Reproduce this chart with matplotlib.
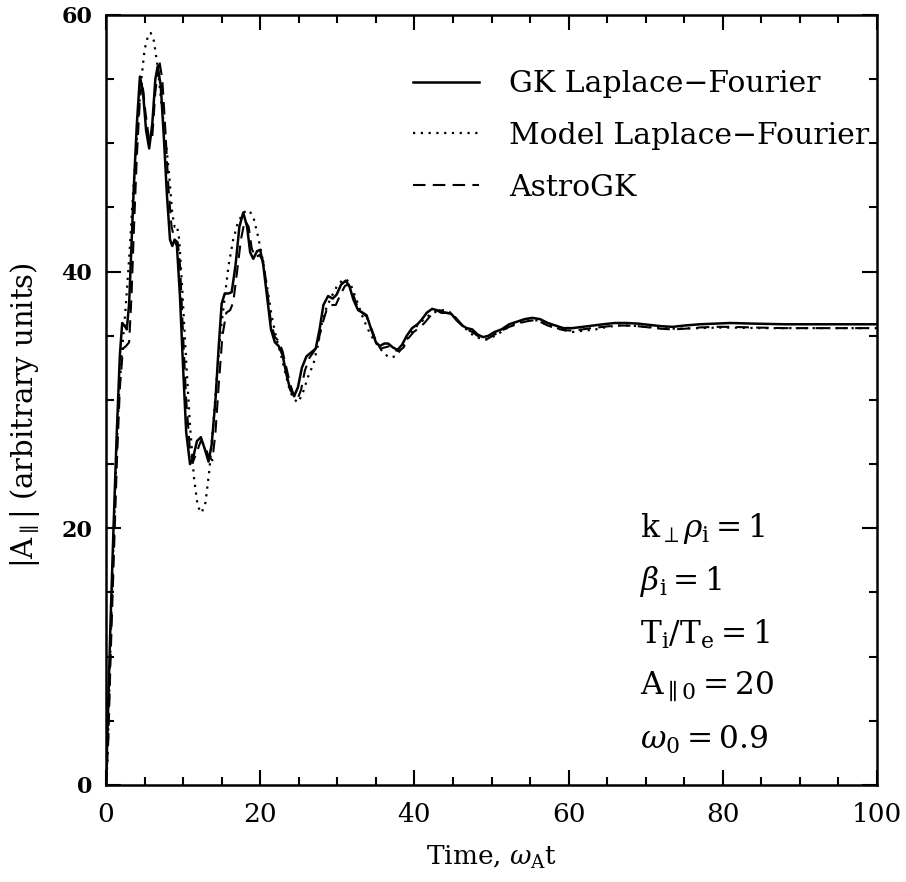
import matplotlib
matplotlib.use("Agg")
import matplotlib.pyplot as plt
from matplotlib.ticker import MultipleLocator

# GK Laplace-Fourier (solid)
gk_t = [0.0, 0.3, 0.6, 1.0, 1.4, 1.8, 2.1, 2.4, 2.7, 3.0, 3.3, 3.6, 4.0, 4.4, 4.8, 5.2,
        5.6, 6.0, 6.4, 6.7, 7.1, 7.5, 7.9, 8.3, 8.6, 8.9, 9.2, 9.6, 10.0, 10.4, 10.9,
        11.3, 11.8, 12.3, 12.8, 13.3, 13.7, 14.2, 14.6, 15.0, 15.4, 15.9, 16.3, 16.8,
        17.3, 17.8, 18.3, 18.7, 19.1, 19.6, 20.0, 20.4, 20.9, 21.4, 21.9, 22.4, 22.9,
        23.4, 23.9, 24.4, 24.9, 25.4, 26.0, 26.6, 27.2, 27.7, 28.2, 28.8, 29.4, 29.9,
        30.5, 31.1, 31.6, 32.1, 32.7, 33.3, 33.8, 34.4, 35.0, 35.5, 36.1, 36.6, 37.2,
        37.8, 38.4, 39.0, 39.7, 40.4, 41.0, 41.6, 42.3, 42.9, 43.5, 44.2, 44.8, 45.5,
        46.2, 46.8, 47.5, 48.2, 48.9, 49.6, 50.4, 51.3, 52.3, 53.3, 54.3, 55.3, 56.3,
        57.3, 58.3, 59.3, 60.5, 61.8, 63.0, 64.5, 66.0, 67.5, 69.0, 70.5, 72.0, 73.5,
        75.0, 77.0, 79.0, 81.0, 84.0, 88.0, 92.0, 96.0, 100.0]
gk_a = [0.0, 6.5, 13.0, 20.5, 27.5, 33.5, 36.0, 35.8, 35.5, 37.5, 42.0, 46.5, 51.5, 55.2,
        54.0, 51.0, 49.6, 51.5, 55.0, 56.0, 54.5, 50.5, 46.0, 42.5, 42.0, 42.5, 42.0,
        38.0, 32.5, 27.5, 25.0, 25.5, 26.8, 27.1, 26.2, 25.2, 26.5, 30.0, 34.0, 37.5,
        38.3, 38.3, 38.4, 40.5, 43.5, 44.6, 43.5, 41.5, 41.0, 41.6, 41.7, 40.5, 38.0,
        35.5, 34.5, 34.2, 33.5, 32.0, 30.8, 30.3, 31.0, 32.5, 33.4, 33.7, 34.0, 35.5,
        37.4, 38.1, 37.9, 38.2, 39.0, 39.3, 38.8, 37.8, 37.0, 36.8, 36.6, 35.5, 34.5,
        34.2, 34.4, 34.4, 34.1, 33.9, 34.3, 35.0, 35.6, 35.9, 36.3, 36.8, 37.1, 37.0,
        36.8, 36.8, 36.7, 36.2, 35.8, 35.6, 35.5, 35.1, 34.9, 35.0, 35.3, 35.5, 35.9,
        36.1, 36.3, 36.4, 36.3, 36.0, 35.8, 35.6, 35.6, 35.7, 35.8, 35.9, 36.0, 36.0,
        35.95, 35.85, 35.75, 35.7, 35.8, 35.9, 35.95, 36.0, 35.95, 35.9, 35.9, 35.9, 35.9]

# Model Laplace-Fourier (dotted)
model_t = [0.0, 0.2, 0.5, 0.9, 1.3, 1.7, 2.1, 2.5, 3.0, 3.5, 4.0, 4.5, 5.0, 5.5, 5.8, 6.2,
           6.7, 7.2, 7.7, 8.2, 8.6, 8.9, 9.2, 9.5, 9.9, 10.4, 10.9, 11.4, 11.9, 12.4,
           12.9, 13.4, 13.9, 14.4, 14.9, 15.4, 15.9, 16.5, 17.1, 17.8, 18.5, 19.1, 19.7,
           20.3, 20.9, 21.5, 22.1, 22.7, 23.3, 23.9, 24.5, 24.9, 25.5, 26.2, 26.9, 27.5,
           28.0, 28.6, 29.2, 29.9, 30.6, 31.2, 31.8, 32.5, 33.2, 33.9, 34.6, 35.3, 36.1,
           36.8, 37.5, 38.2, 38.9, 39.7, 40.5, 41.3, 42.1, 42.9, 43.7, 44.5, 45.3, 46.1,
           46.9, 47.7, 48.5, 49.3, 50.1, 51.0, 52.0, 53.0, 54.0, 55.0, 56.0, 57.0, 58.0,
           59.0, 60.5, 62.0, 63.5, 65.0, 66.5, 68.0, 70.0, 72.0, 74.0, 77.0, 80.0, 85.0,
           90.0, 95.0, 100.0]
model_a = [0.0, 2.0, 9.0, 17.5, 25.0, 30.5, 34.0, 36.8, 41.0, 46.0, 50.5, 54.5, 57.3, 58.5,
           58.6, 58.0, 56.0, 53.0, 50.5, 47.5, 44.5, 43.5, 43.6, 42.5, 38.5, 33.0, 28.0,
           24.0, 21.7, 21.2, 22.0, 24.5, 28.0, 32.0, 35.5, 38.0, 40.5, 42.5, 43.8, 44.6,
           44.8, 44.3, 42.8, 41.0, 38.8, 36.5, 34.8, 33.5, 32.0, 30.6, 30.0, 29.8, 30.5,
           31.8, 32.8, 34.3, 36.0, 37.2, 38.0, 38.8, 39.3, 39.4, 38.9, 37.8, 36.6, 35.6,
           34.8, 34.2, 33.6, 33.3, 33.4, 33.9, 34.6, 35.3, 35.9, 36.3, 36.7, 36.9, 37.0,
           36.9, 36.4, 35.9, 35.4, 35.0, 34.8, 34.7, 34.9, 35.2, 35.6, 35.9, 36.1, 36.2,
           36.2, 35.9, 35.7, 35.5, 35.3, 35.4, 35.5, 35.7, 35.8, 35.8, 35.7, 35.6, 35.55,
           35.6, 35.65, 35.6, 35.6, 35.6, 35.6]

# AstroGK (dashed)
agk_t = [0.0, 0.3, 0.6, 1.0, 1.4, 1.8, 2.2, 2.6, 3.0, 3.3, 3.6, 4.0, 4.4, 4.7, 5.1, 5.6,
         6.0, 6.4, 6.9, 7.3, 7.7, 8.1, 8.5, 8.9, 9.3, 9.6, 10.0, 10.4, 10.9, 11.3, 11.8,
         12.3, 12.8, 13.3, 13.8, 14.2, 14.6, 15.1, 15.6, 16.1, 16.5, 17.0, 17.5, 18.0,
         18.5, 18.9, 19.4, 19.9, 20.4, 20.9, 21.4, 21.9, 22.4, 22.9, 23.4, 23.9, 24.4,
         24.8, 25.3, 25.8, 26.4, 27.0, 27.5, 28.0, 28.6, 29.2, 29.8, 30.4, 31.0, 31.5,
         32.0, 32.6, 33.2, 33.8, 34.4, 35.0, 35.6, 36.2, 36.8, 37.4, 38.0, 38.6, 39.2,
         39.9, 40.6, 41.3, 42.0, 42.7, 43.3, 44.0, 44.7, 45.4, 46.1, 46.8, 47.5, 48.2,
         48.9, 49.6, 50.4, 51.3, 52.3, 53.3, 54.3, 55.3, 56.3, 57.3, 58.3, 59.3, 60.5,
         61.8, 63.0, 64.5, 66.0, 67.5, 69.0, 70.5, 72.0, 73.5, 75.0, 77.0, 79.0, 81.0,
         84.0, 88.0, 92.0, 96.0, 100.0]
agk_a = [0.0, 3.5, 10.0, 17.5, 25.0, 31.0, 34.0, 34.2, 34.5, 38.0, 43.0, 49.0, 53.5, 54.8,
         52.5, 50.2, 50.5, 54.0, 56.5, 55.0, 51.0, 46.5, 43.5, 42.5, 42.3, 40.5, 35.0,
         30.0, 26.0, 25.2, 26.0, 26.8, 26.5, 25.6, 25.3, 27.5, 31.0, 35.0, 36.8, 37.0,
         37.6, 40.0, 42.5, 44.0, 43.5, 41.8, 41.1, 41.3, 40.8, 38.6, 36.0, 34.9, 34.6,
         33.8, 32.5, 31.2, 30.3, 30.0, 30.8, 32.3, 33.3, 33.8, 34.5, 35.8, 37.0, 37.4,
         37.4, 38.2, 38.9, 39.0, 38.3, 37.3, 36.8, 36.5, 35.6, 34.6, 34.0, 34.1, 34.2,
         33.9, 33.8, 34.1, 34.8, 35.3, 35.6, 36.0, 36.5, 36.9, 37.0, 36.8, 36.7, 36.4,
         35.9, 35.5, 35.3, 35.0, 34.7, 34.8, 35.1, 35.4, 35.7, 35.9, 36.1, 36.2, 36.1,
         35.8, 35.6, 35.45, 35.4, 35.5, 35.6, 35.7, 35.8, 35.8, 35.75, 35.65, 35.55,
         35.5, 35.55, 35.65, 35.7, 35.7, 35.65, 35.6, 35.6, 35.6, 35.6]

params = [r"$\mathrm{k}_{\perp}\rho_\mathrm{i} = 1$",
          r"$\beta_\mathrm{i} = 1$",
          r"$\mathrm{T_i/T_e} = 1$",
          r"$\mathrm{A}_{\parallel 0} = 20$",
          r"$\omega_0 = 0.9$"]

plt.rcParams["font.family"] = "DejaVu Serif"
plt.rcParams["mathtext.fontset"] = "dejavuserif"

fig = plt.figure(figsize=(9.06, 8.82), dpi=100)
ax = fig.add_axes([0.117, 0.110, 0.851, 0.873])

ax.plot(gk_t, gk_a, color="black", lw=1.8, label="GK Laplace\u2212Fourier")
ax.plot(model_t, model_a, color="black", lw=1.6, linestyle=(0, (1, 2.5)),
        label="Model Laplace\u2212Fourier")
ax.plot(agk_t, agk_a, color="black", lw=1.5, linestyle=(0, (6, 3.5)), label="AstroGK")

ax.set_xlim(0, 100)
ax.set_ylim(0, 60)
ax.xaxis.set_major_locator(MultipleLocator(20))
ax.xaxis.set_minor_locator(MultipleLocator(5))
ax.yaxis.set_major_locator(MultipleLocator(20))
ax.yaxis.set_minor_locator(MultipleLocator(5))
ax.tick_params(which="both", direction="in", top=True, right=True, width=1.5)
ax.tick_params(which="major", length=11)
ax.tick_params(which="minor", length=6)
ax.tick_params(axis="x", which="major", labelsize=19, pad=12)
ax.tick_params(axis="y", which="major", labelsize=16, pad=10)
for lab in ax.get_yticklabels():
    lab.set_fontweight("bold")
for s in ax.spines.values():
    s.set_linewidth(1.8)

ax.set_xlabel(r"Time, $\omega_\mathrm{A}$t", fontsize=19, labelpad=12)
ax.set_ylabel(r"$|\mathrm{A}_\parallel|$ (arbitrary units)", fontsize=21)
ax.yaxis.set_label_coords(-0.083, 0.48)

leg = ax.legend(loc="upper left", bbox_to_anchor=(0.383, 0.944), borderaxespad=0,
                frameon=False, fontsize=21.5, handlelength=2.2, handletextpad=1.0,
                labelspacing=0.8)

for i, p in enumerate(params):
    ax.text(0.693, 0.333 - i * 0.0685, p, transform=ax.transAxes, fontsize=22.5,
            va="center", ha="left")

fig.savefig("out.png", dpi=100)
